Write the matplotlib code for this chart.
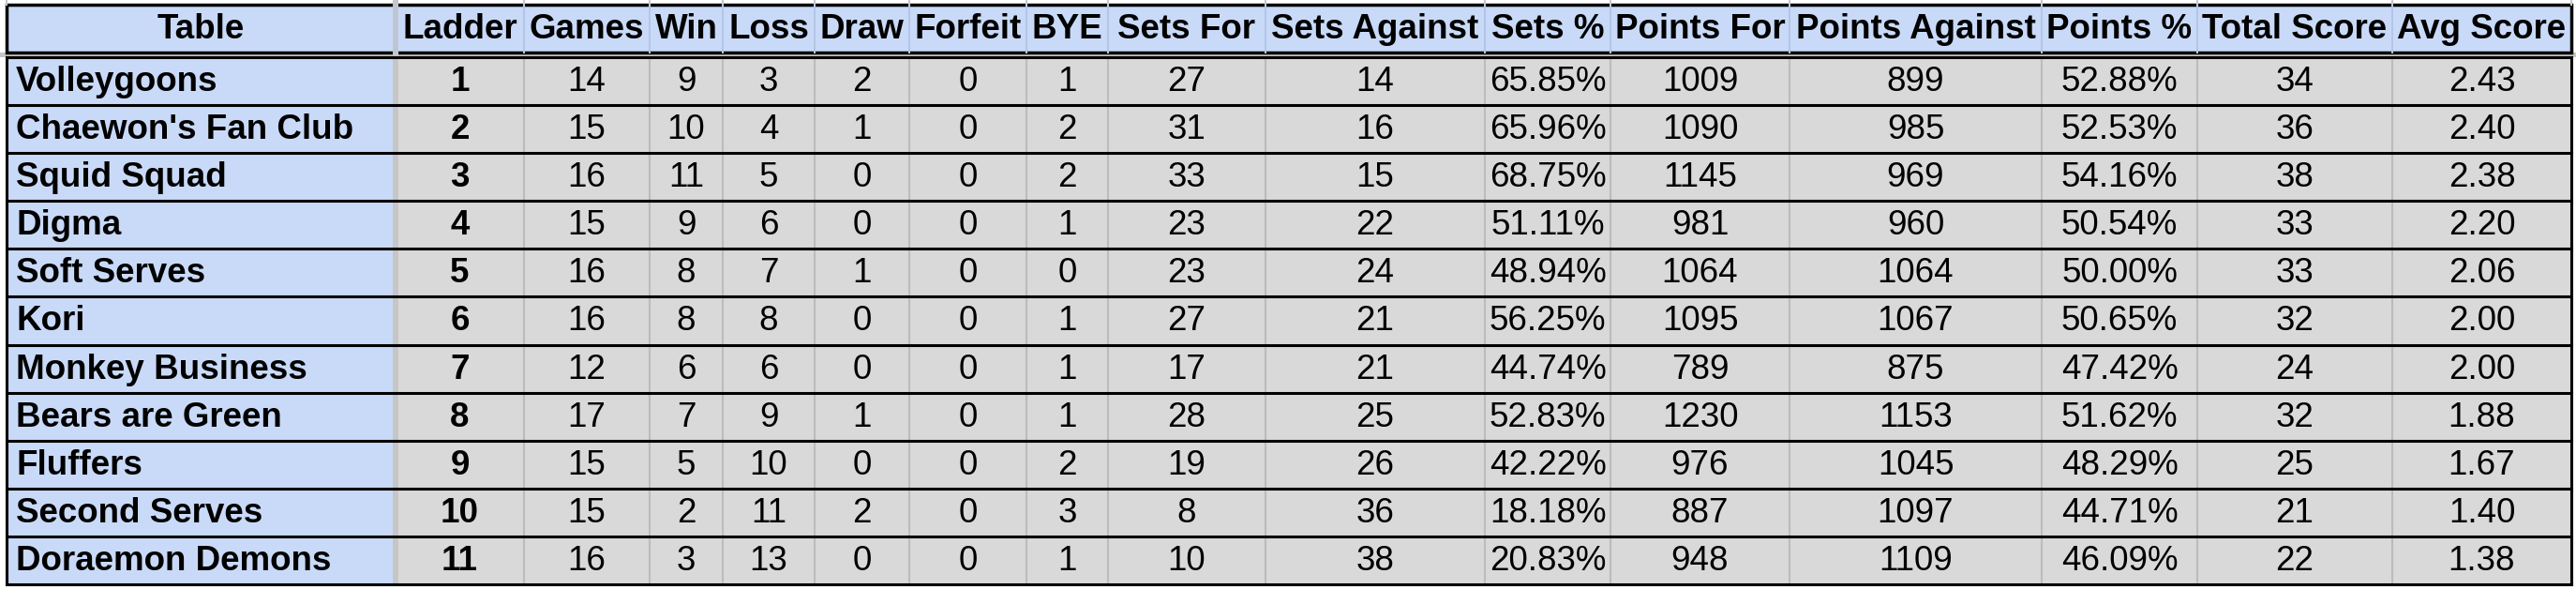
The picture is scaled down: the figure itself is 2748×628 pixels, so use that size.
import matplotlib
matplotlib.use("Agg")
import matplotlib.pyplot as plt
from matplotlib.patches import Rectangle

headers = ["Table", "Ladder", "Games", "Win", "Loss", "Draw", "Forfeit", "BYE", "Sets For",
           "Sets Against", "Sets %", "Points For", "Points Against", "Points %", "Total Score", "Avg Score"]
teams = ["Volleygoons", "Chaewon's Fan Club", "Squid Squad", "Digma", "Soft Serves", "Kori",
         "Monkey Business", "Bears are Green", "Fluffers", "Second Serves", "Doraemon Demons"]
ladder = [1, 2, 3, 4, 5, 6, 7, 8, 9, 10, 11]
games = [14, 15, 16, 15, 16, 16, 12, 17, 15, 15, 16]
win = [9, 10, 11, 9, 8, 8, 6, 7, 5, 2, 3]
loss = [3, 4, 5, 6, 7, 8, 6, 9, 10, 11, 13]
draw = [2, 1, 0, 0, 1, 0, 0, 1, 0, 2, 0]
forfeit = [0, 0, 0, 0, 0, 0, 0, 0, 0, 0, 0]
bye = [1, 2, 2, 1, 0, 1, 1, 1, 2, 3, 1]
sets_for = [27, 31, 33, 23, 23, 27, 17, 28, 19, 8, 10]
sets_against = [14, 16, 15, 22, 24, 21, 21, 25, 26, 36, 38]
sets_pct = ["65.85%", "65.96%", "68.75%", "51.11%", "48.94%", "56.25%", "44.74%", "52.83%", "42.22%", "18.18%", "20.83%"]
points_for = [1009, 1090, 1145, 981, 1064, 1095, 789, 1230, 976, 887, 948]
points_against = [899, 985, 969, 960, 1064, 1067, 875, 1153, 1045, 1097, 1109]
points_pct = ["52.88%", "52.53%", "54.16%", "50.54%", "50.00%", "50.65%", "47.42%", "51.62%", "48.29%", "44.71%", "46.09%"]
total_score = [34, 36, 38, 33, 33, 32, 24, 32, 25, 21, 22]
avg_score = ["2.43", "2.40", "2.38", "2.20", "2.06", "2.00", "2.00", "1.88", "1.67", "1.40", "1.38"]

columns = [teams, ladder, games, win, loss, draw, forfeit, bye, sets_for, sets_against,
           sets_pct, points_for, points_against, points_pct, total_score, avg_score]

W, H = 2748, 628
xb = [7, 422, 559, 693, 771, 869, 970, 1095, 1182, 1350, 1584, 1718, 1909, 2178, 2344, 2552, 2743]
hy0, hy1 = 5, 56
ry0 = 61
rh = (623 - ry0) / len(teams)

fig = plt.figure(figsize=(W / 100, H / 100), dpi=100)
ax = fig.add_axes([0, 0, 1, 1])
ax.set_xlim(0, W)
ax.set_ylim(H, 0)
ax.axis("off")

BLUE = "#c9daf8"
GREY = "#d9d9d9"
FONT = "Liberation Sans"
FS = 26.5

# top strip grid lines
for x in xb:
    ax.plot([x, x], [0, hy0], color="#c8c8c8", lw=1.5)
ax.add_patch(Rectangle((0, hy1), W, ry0 - hy1, color="#c6c6c6", lw=0))

# header
ax.add_patch(Rectangle((xb[0], hy0), xb[-1] - xb[0], hy1 - hy0, facecolor=BLUE, edgecolor="none"))
for x in xb[1:-1]:
    ax.plot([x, x], [hy0, hy1], color="#b4c6e7", lw=1.5)
ax.add_patch(Rectangle((xb[0], hy0), xb[-1] - xb[0], hy1 - hy0, facecolor="none", edgecolor="black", lw=2.5))
for i, h in enumerate(headers):
    ax.text((xb[i] + xb[i + 1]) / 2, (hy0 + hy1) / 2 + 1, h, ha="center", va="center",
            fontsize=FS, fontweight="bold", family=FONT)

# body
n = len(teams)
ax.add_patch(Rectangle((xb[0], ry0), xb[1] - xb[0], n * rh, facecolor=BLUE, edgecolor="none"))
ax.add_patch(Rectangle((xb[1], ry0), xb[-1] - xb[1], n * rh, facecolor=GREY, edgecolor="none"))
for x in xb[2:-1]:
    ax.plot([x, x], [ry0, ry0 + n * rh], color="#bcbcbc", lw=1.5)
ax.add_patch(Rectangle((xb[1] - 3, 0), 6, ry0 + n * rh, color="#c6c6c6", lw=0))
for r in range(n + 1):
    y = ry0 + r * rh
    ax.plot([xb[0], xb[-1]], [y, y], color="black", lw=2.2)
ax.plot([xb[0], xb[0]], [ry0, ry0 + n * rh], color="black", lw=2.2)
ax.plot([xb[-1], xb[-1]], [ry0, ry0 + n * rh], color="black", lw=2.2)

for r in range(n):
    yc = ry0 + (r + 0.5) * rh + 1
    for c, col in enumerate(columns):
        val = str(col[r])
        if c == 0:
            ax.text(xb[0] + 10, yc, val, ha="left", va="center", fontsize=FS,
                    fontweight="bold", family=FONT)
        else:
            ax.text((xb[c] + xb[c + 1]) / 2, yc, val, ha="center", va="center", fontsize=FS,
                    fontweight="bold" if c == 1 else "normal", family=FONT)

fig.savefig("out.png", dpi=100)
